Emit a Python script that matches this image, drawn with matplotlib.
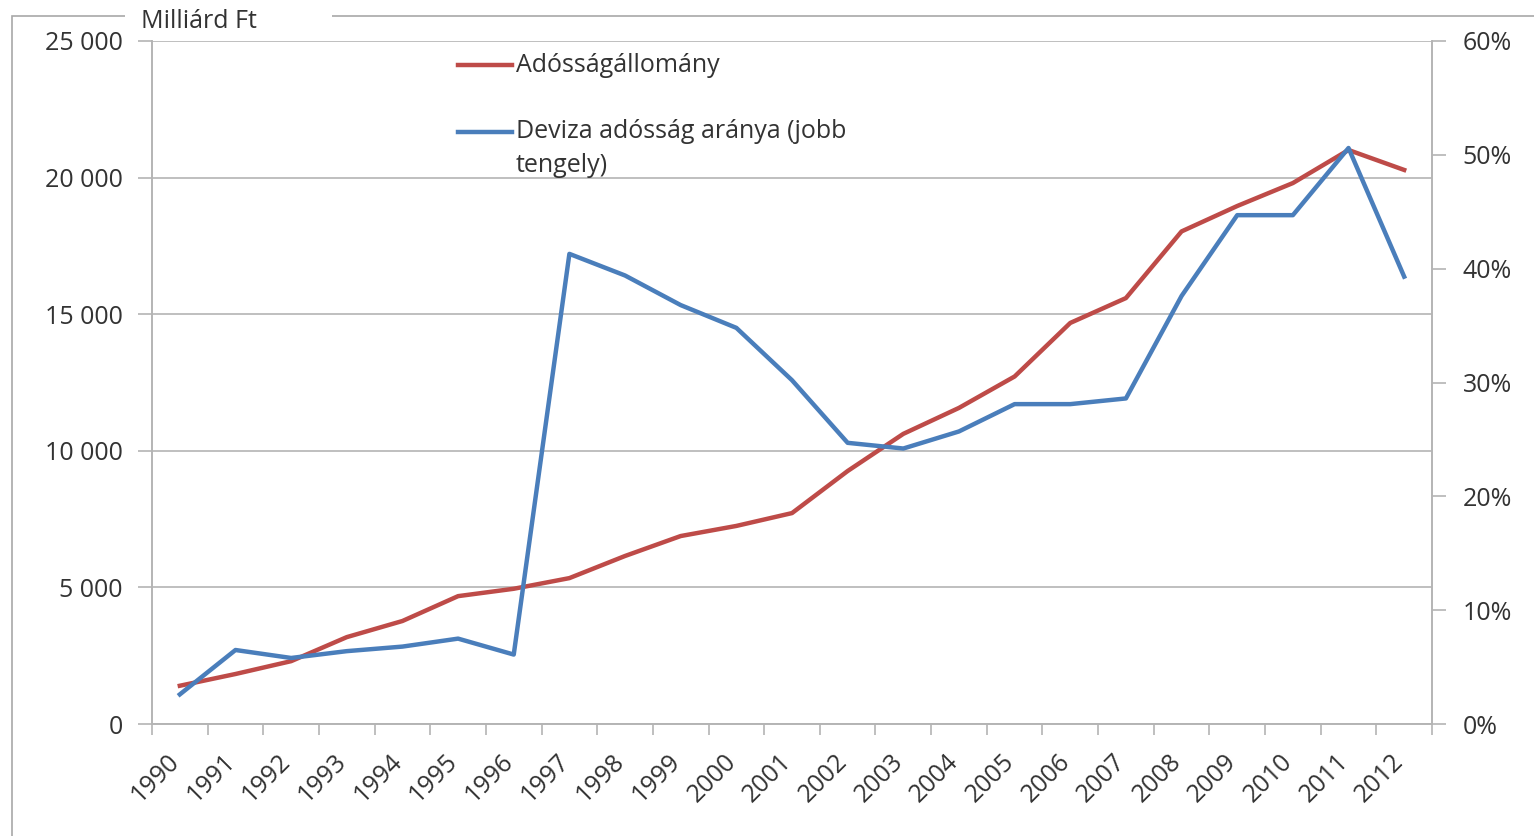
import matplotlib
matplotlib.use("Agg")
import matplotlib.pyplot as plt
import matplotlib.patches as mpatches
from matplotlib.lines import Line2D
from matplotlib.transforms import ScaledTranslation
from matplotlib.ticker import FuncFormatter, MultipleLocator

plt.rcParams['font.family'] = ['Open Sans', 'DejaVu Sans']

# debt stock (billion HUF) and FX share of the debt (%)
years = [str(y) for y in range(1990, 2013)]
debt_stock = [1400, 1830, 2300, 3180, 3770, 4680, 4950, 5340, 6150, 6880, 7250, 7720,
              9260, 10620, 11570, 12720, 14680, 15590, 18030, 18960, 19800, 21010, 20280]
fx_share = [2.6, 6.5, 5.8, 6.4, 6.8, 7.5, 6.1, 41.3, 39.4, 36.8, 34.8, 30.2,
            24.7, 24.2, 25.7, 28.1, 28.1, 28.6, 37.6, 44.7, 44.7, 50.6, 39.3]

label_debt = ['Adósságállomány']
label_fx = ['Deviza adósság aránya (jobb', 'tengely)']

RED = '#BE4B48'
BLUE = '#4A7EBB'
GRID = '#b4b4b4'
TXT = '#333333'
FS = 18

W, H = 1534, 836
fig = plt.figure(figsize=(W / 100, H / 100), dpi=100)

# outer chart frame (only the top and left edges fall inside the image)
frame = mpatches.Rectangle((12 / W, -0.1), 1.2, 1 + 0.1 - 16 / H, transform=fig.transFigure,
                           fill=False, edgecolor='#a8a8a8', linewidth=1.2)
fig.patches.append(frame)
# white gap in the frame behind the unit label
gap = mpatches.Rectangle((125 / W, 1 - 30 / H), (332 - 125) / W, 25 / H, transform=fig.transFigure,
                         facecolor='white', edgecolor='none', zorder=2)
fig.patches.append(gap)
fig.text(141 / W, 1 - 21 / H, 'Milliárd Ft', fontsize=FS, color=TXT, va='center', ha='left', zorder=3)

L, R, T, B = 152, 1432, 41, 724
ax = fig.add_axes([L / W, (H - B) / H, (R - L) / W, (B - T) / H])
ax2 = ax.twinx()

x = list(range(len(years)))
ax.plot(x, debt_stock, color=RED, lw=3.2, solid_joinstyle='round', zorder=3)
ax2.plot(x, fx_share, color=BLUE, lw=3.2, solid_joinstyle='round', zorder=3)

ax.set_xlim(-0.5, len(years) - 0.5)
ax.set_ylim(0, 25000)
ax2.set_ylim(0, 60)

ax.yaxis.set_major_locator(MultipleLocator(5000))
ax.yaxis.set_major_formatter(FuncFormatter(lambda v, p: '{:,.0f}'.format(v).replace(',', ' ')))
ax2.yaxis.set_major_locator(MultipleLocator(10))
ax2.yaxis.set_major_formatter(FuncFormatter(lambda v, p: '{:.0f}%'.format(v)))

ax.grid(axis='y', color=GRID, lw=1.2)
ax.set_axisbelow(True)

# category labels in the middle, ticks on the boundaries
ax.set_xticks(x)
ax.set_xticks([i - 0.5 for i in range(len(years) + 1)], minor=True)
ax.tick_params(axis='x', which='major', length=0, pad=16)
ax.tick_params(axis='x', which='minor', length=8, width=1.2, color=GRID, direction='out')
ax.tick_params(axis='y', length=10, width=1.2, color=GRID, labelsize=FS, labelcolor=TXT, pad=11)
ax2.tick_params(axis='y', length=10, width=1.2, color=GRID, labelsize=FS, labelcolor=TXT, pad=12)
ax.set_xticklabels(years, rotation=45, ha='right', rotation_mode='anchor', fontsize=FS, color=TXT)
# nudge the slanted year labels a little to the left
shift = ScaledTranslation(-0.13, -0.03, fig.dpi_scale_trans)
for lbl in ax.get_xticklabels():
    lbl.set_transform(lbl.get_transform() + shift)

for a in (ax, ax2):
    for s in a.spines.values():
        s.set_color(GRID)
        s.set_linewidth(1.2)
    a.spines['top'].set_visible(False)


def to_axes(px, py):
    return (px - L) / (R - L), (B - py) / (B - T)


# legend drawn inside the plot area
def legend_entry(ypx, color, lines):
    x0, y0 = to_axes(458, ypx)
    x1, _ = to_axes(512, ypx)
    ax.add_line(Line2D([x0, x1], [y0, y0], transform=ax.transAxes, color=color, lw=3.2, zorder=4))
    for i, line in enumerate(lines):
        tx, ty = to_axes(516, ypx + 34 * i)
        ax.text(tx, ty, line, transform=ax.transAxes, fontsize=FS,
                color=TXT, va='center', ha='left', zorder=4)


legend_entry(65, RED, label_debt)
legend_entry(132, BLUE, label_fx)

fig.savefig('out.png', dpi=100, facecolor='white')
